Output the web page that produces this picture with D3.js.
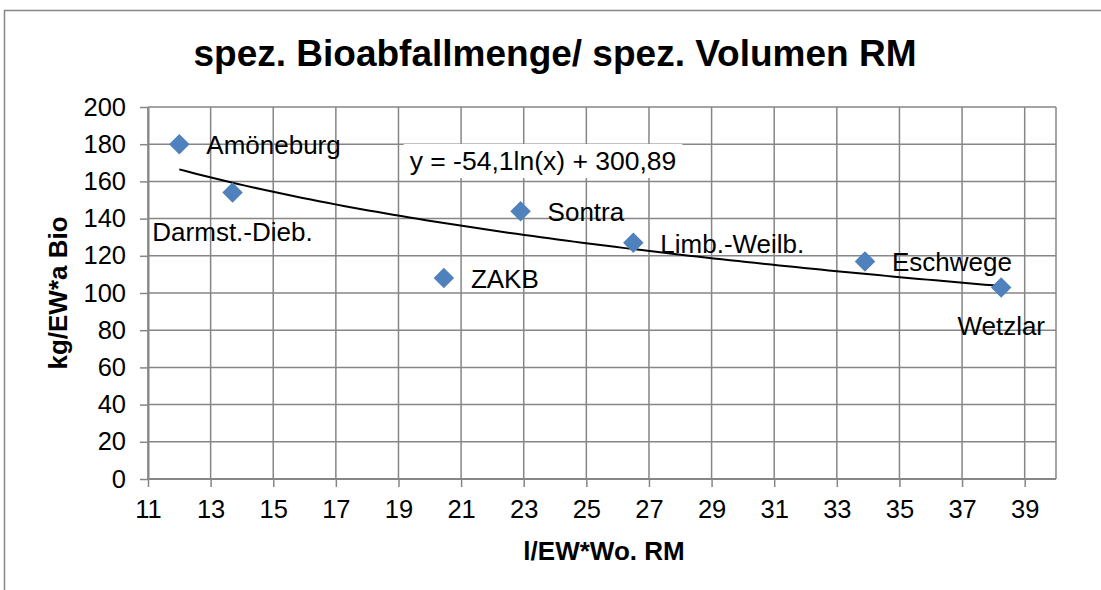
<!DOCTYPE html>
<html>
<head>
<meta charset="utf-8">
<script src="https://cdn.jsdelivr.net/npm/d3@7"></script>
<style>
  body { margin: 0; background: #fff; }
  svg text { font-family: "Liberation Sans", Arial, sans-serif; }
</style>
</head>
<body>
<div id="chart"></div>
<script>
// data
var names = ["Amöneburg", "Darmst.-Dieb.", "ZAKB", "Sontra", "Limb.-Weilb.", "Eschwege", "Wetzlar"];
var volumes = [12, 13.7, 20.45, 22.9, 26.5, 33.9, 38.25];
var amounts = [180, 154, 108, 144, 127, 117, 103];
var labelPos = ["right", "below", "right", "right", "right", "right", "below"];
var xTicks = [11, 13, 15, 17, 19, 21, 23, 25, 27, 29, 31, 33, 35, 37, 39];
var yTicks = [0, 20, 40, 60, 80, 100, 120, 140, 160, 180, 200];
// log trendline as shown on the chart: y = a*ln(x) + b
var trendA = -54.1;
var trendB = 300.89;
var trendText = "y = -54,1ln(x) + 300,89";

function init() {
    var w = 1101;
    var h = 590;
    var grid = "#868686";

    var svg = d3.select("#chart")
        .append("svg")
        .attr("width", w)
        .attr("height", h);

    // outer chart border
    svg.append("rect")
        .attr("x", 4.5).attr("y", 10.5)
        .attr("width", w + 20).attr("height", h + 20)
        .attr("fill", "none")
        .attr("stroke", grid)
        .attr("stroke-width", 1.5);

    var x = d3.scaleLinear().domain([11, 40]).range([148, 1056]);
    var y = d3.scaleLinear().domain([0, 200]).range([479, 107]);

    // gridlines
    svg.append("g").selectAll("line.v")
        .data(xTicks.concat([40]))
        .enter().append("line")
        .attr("x1", function (d) { return x(d); })
        .attr("x2", function (d) { return x(d); })
        .attr("y1", y(0)).attr("y2", y(200))
        .attr("stroke", grid).attr("stroke-width", 1.5);

    svg.append("g").selectAll("line.h")
        .data(yTicks)
        .enter().append("line")
        .attr("x1", x(11)).attr("x2", x(40))
        .attr("y1", function (d) { return y(d); })
        .attr("y2", function (d) { return y(d); })
        .attr("stroke", grid).attr("stroke-width", 1.5);

    // axes
    var xAxis = d3.axisBottom(x).tickValues(xTicks).tickSizeInner(8).tickSizeOuter(0).tickPadding(13);
    var yAxis = d3.axisLeft(y).tickValues(yTicks).tickSizeInner(8).tickSizeOuter(0).tickPadding(14);

    var gx = svg.append("g").attr("transform", "translate(0," + y(0) + ")").call(xAxis);
    var gy = svg.append("g").attr("transform", "translate(" + x(11) + ",0)").call(yAxis);

    [gx, gy].forEach(function (g) {
        g.select(".domain").attr("stroke", grid).attr("stroke-width", 2);
        g.selectAll(".tick line").attr("stroke", grid).attr("stroke-width", 1.5);
        g.selectAll(".tick text")
            .attr("fill", "#000")
            .style("font-size", "25.5px")
            .style("font-family", "'Liberation Sans', Arial, sans-serif");
    });
    gx.select(".domain").attr("d", "M" + x(11) + ",0H" + x(40));

    // trendline
    var xs = d3.extent(volumes);
    var pts = d3.range(0, 101).map(function (i) {
        var v = xs[0] + (xs[1] - xs[0]) * i / 100;
        return [v, trendA * Math.log(v) + trendB];
    });
    svg.append("path")
        .datum(pts)
        .attr("fill", "none")
        .attr("stroke", "#000")
        .attr("stroke-width", 2)
        .attr("d", d3.line()
            .x(function (d) { return x(d[0]); })
            .y(function (d) { return y(d[1]); }));

    // points
    var sym = d3.symbol().type(d3.symbolSquare).size(210);
    svg.append("g").selectAll("path")
        .data(volumes)
        .enter().append("path")
        .attr("d", sym)
        .attr("transform", function (d, i) {
            return "translate(" + x(d) + "," + y(amounts[i]) + ") rotate(45)";
        })
        .attr("fill", "#4F81BD");

    // point labels
    svg.append("g").selectAll("text")
        .data(names)
        .enter().append("text")
        .attr("x", function (d, i) {
            return labelPos[i] == "right" ? x(volumes[i]) + 27 : x(volumes[i]);
        })
        .attr("y", function (d, i) {
            return labelPos[i] == "right" ? y(amounts[i]) + 10 : y(amounts[i]) + 48;
        })
        .attr("text-anchor", function (d, i) {
            return labelPos[i] == "right" ? "start" : "middle";
        })
        .style("font-size", "26px")
        .text(function (d) { return d; });

    // trendline equation with white box
    var eq = svg.append("g");
    var eqText = eq.append("text")
        .attr("x", 543).attr("y", 170)
        .attr("text-anchor", "middle")
        .style("font-size", "26.5px")
        .text(trendText);
    var bb = eqText.node().getBBox();
    eq.insert("rect", "text")
        .attr("x", bb.x - 6).attr("y", bb.y - 2)
        .attr("width", bb.width + 12).attr("height", bb.height + 4)
        .attr("fill", "#fff");

    // titles
    svg.append("text")
        .attr("x", 555).attr("y", 66)
        .attr("text-anchor", "middle")
        .style("font-size", "37px")
        .style("font-weight", "bold")
        .text("spez. Bioabfallmenge/ spez. Volumen RM");

    svg.append("text")
        .attr("x", 604).attr("y", 560)
        .attr("text-anchor", "middle")
        .style("font-size", "26px")
        .style("font-weight", "bold")
        .text("l/EW*Wo. RM");

    svg.append("text")
        .attr("transform", "translate(67,293) rotate(-90)")
        .attr("text-anchor", "middle")
        .style("font-size", "26px")
        .style("font-weight", "bold")
        .text("kg/EW*a Bio");
}

window.onload = init;
</script>
</body>
</html>
